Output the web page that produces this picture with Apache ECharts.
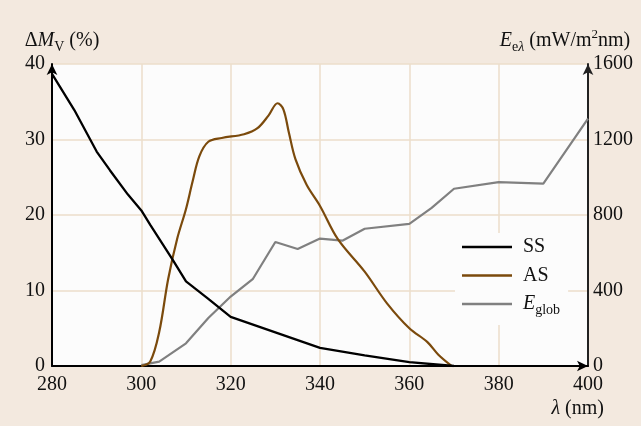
<!DOCTYPE html>
<html>
<head>
<meta charset="utf-8">
<script src="https://cdn.jsdelivr.net/npm/echarts@6/dist/echarts.min.js"></script>
<style>
  html, body { margin: 0; padding: 0; background: #f3e9df; }
  #chart { width: 641px; height: 426px; }
</style>
</head>
<body>
<div id="chart"></div>
<script>
// Wavelength (nm) and relative change of the visual magnitude (%) – SS curve
const ssWavelength = [280, 285, 290, 293, 297, 300, 302, 307, 310, 315, 320, 340, 350, 360, 370];
const ssValues     = [38.7, 33.9, 28.4, 25.9, 22.7, 20.6, 18.7, 14.1, 11.2, 8.9, 6.5, 2.4, 1.4, 0.5, 0];

// AS curve
const asWavelength = [300, 302, 304, 306, 308, 310, 311.5, 313, 315, 318, 323, 326, 328.5, 330.5, 331.8, 333, 334.5, 337, 340, 344, 350, 355, 360, 364, 366.5, 369.5];
const asValues     = [0, 0.6, 4.5, 11.5, 16.8, 20.8, 24.5, 27.8, 29.7, 30.2, 30.7, 31.5, 33.2, 34.8, 34.0, 31.0, 27.4, 24.0, 21.2, 16.8, 12.5, 8.3, 5.0, 3.2, 1.5, 0];

// Global spectral irradiance (mW/m²nm)
const eWavelength = [300, 304, 310, 315, 320, 325, 330, 335, 340, 345, 350, 360, 365, 370, 380, 390, 400];
const eValues     = [5, 23, 120, 254, 368, 462, 657, 620, 675, 664, 727, 753, 838, 939, 974, 966, 1311];

const seriesNames = ['SS', 'AS', 'Eglob'];

const pair = (xs, ys) => xs.map((x, i) => [x, ys[i]]);

const FONT = '"Liberation Serif", "DejaVu Serif", serif';
const GRID_COLOR = '#ecdecb';

const richStyles = {
  n: { fontFamily: FONT, fontSize: 20, color: '#111', lineHeight: 26 },
  i: { fontFamily: FONT, fontSize: 20, color: '#111', fontStyle: 'italic', lineHeight: 26 },
  s: { fontFamily: FONT, fontSize: 14, color: '#111', lineHeight: 14, verticalAlign: 'bottom' },
  si: { fontFamily: FONT, fontSize: 14, color: '#111', fontStyle: 'italic', lineHeight: 14, verticalAlign: 'bottom' },
  p: { fontFamily: FONT, fontSize: 13, color: '#111', lineHeight: 13, verticalAlign: 'top' }
};

const plain = v => String(v);

const chart = echarts.init(document.getElementById('chart'), null, { renderer: 'canvas' });

chart.setOption({
  backgroundColor: '#f3e9df',
  animation: false,
  grid: {
    left: 52, right: 53, top: 64, bottom: 60,
    show: true, backgroundColor: '#fcfcfc', borderWidth: 0
  },
  legend: {
    data: seriesNames,
    orient: 'vertical',
    left: 455, top: 233,
    padding: [4, 8, 8, 7],
    backgroundColor: '#fcfcfc',
    icon: 'rect',
    itemWidth: 50, itemHeight: 2.5, itemGap: 8.5,
    textStyle: { fontFamily: FONT, fontSize: 20, color: '#111', padding: [0, 0, 0, 6], rich: richStyles },
    formatter: name => name === 'Eglob' ? '{i|E}{s|glob}' : '{n|' + name + '}'
  },
  xAxis: {
    type: 'value', min: 280, max: 400, interval: 20,
    name: '{i|λ}{n| (nm)}',
    nameLocation: 'end', nameGap: 16,
    nameTextStyle: { align: 'right', verticalAlign: 'top', padding: [30, 0, 0, 0], rich: richStyles },
    axisLine: { show: true, onZero: false, symbol: ['none', 'arrow'], symbolSize: [8, 11],
      lineStyle: { color: '#000', width: 2 } },
    axisTick: { show: false },
    axisLabel: { fontFamily: FONT, fontSize: 20, color: '#111', margin: 9, formatter: plain,
      showMinLabel: true, showMaxLabel: true },
    splitLine: { show: true, lineStyle: { color: GRID_COLOR, width: 1.5 } }
  },
  yAxis: [
    {
      type: 'value', min: 0, max: 40, interval: 10,
      name: '{n|Δ}{i|M}{s|V}{n| (%)}',
      nameLocation: 'end', nameGap: 10,
      nameTextStyle: { align: 'center', padding: [0, 0, 0, 20], rich: richStyles },
      axisLine: { show: true, onZero: false, symbol: ['none', 'arrow'], symbolSize: [8, 11],
        lineStyle: { color: '#000', width: 2 } },
      axisTick: { show: false },
      axisLabel: { fontFamily: FONT, fontSize: 20, color: '#111', margin: 7, formatter: plain },
      splitLine: { show: true, lineStyle: { color: GRID_COLOR, width: 1.5 } }
    },
    {
      type: 'value', min: 0, max: 1600, interval: 400, position: 'right',
      name: '{i|E}{s|e}{si|λ}{n| (mW/m}{p|2}{n|nm)}',
      nameLocation: 'end', nameGap: 10,
      nameTextStyle: { align: 'center', padding: [0, 46, 0, 0], rich: richStyles },
      axisLine: { show: true, onZero: false, symbol: ['none', 'arrow'], symbolSize: [8, 11],
        lineStyle: { color: '#222', width: 2 } },
      axisTick: { show: false },
      axisLabel: { fontFamily: FONT, fontSize: 20, color: '#111', margin: 5, formatter: plain },
      splitLine: { show: false }
    }
  ],
  series: [
    {
      name: 'SS', type: 'line', yAxisIndex: 0, symbol: 'none',
      data: pair(ssWavelength, ssValues),
      lineStyle: { color: '#000', width: 2.3 }, itemStyle: { color: '#000' }, z: 4
    },
    {
      name: 'AS', type: 'line', yAxisIndex: 0, symbol: 'none',
      smooth: 0.35,
      data: pair(asWavelength, asValues),
      lineStyle: { color: '#7b4a0c', width: 2.2 }, itemStyle: { color: '#7b4a0c' }, z: 3
    },
    {
      name: 'Eglob', type: 'line', yAxisIndex: 1, symbol: 'none',
      data: pair(eWavelength, eValues),
      lineStyle: { color: '#808080', width: 2.2 }, itemStyle: { color: '#808080' }, z: 2
    }
  ]
});
</script>
</body>
</html>
